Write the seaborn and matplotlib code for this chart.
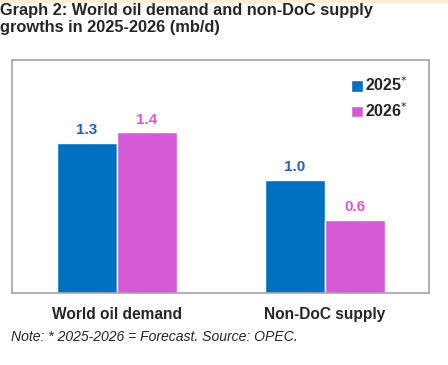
import pandas as pd
import seaborn as sns
import matplotlib.pyplot as plt
from matplotlib.patches import Rectangle

categories = ["World oil demand", "Non-DoC supply"]
years = ["2025$^{*}$", "2026$^{*}$"]
values_2025 = [1.29, 0.97]
values_2026 = [1.38, 0.63]
colors = ["#0070c0", "#d65ad6"]
label_colors = ["#1f5fc4", "#d65ad6"]

df = pd.DataFrame({
    "category": categories * 2,
    "year": [years[0]] * 2 + [years[1]] * 2,
    "value": values_2025 + values_2026,
})

sns.set_style("white")
plt.rcParams["font.family"] = ["Liberation Sans", "DejaVu Sans"]

fig = plt.figure(figsize=(4.48, 3.65), dpi=100)
ax = fig.add_axes([12 / 448, 1 - 293 / 365, 417 / 448, 233 / 365])

sns.barplot(data=df, x="category", y="value", hue="year", palette=colors,
            width=0.577, ax=ax, saturation=1, legend=True)

# value labels (rounded to one decimal as in the source)
for i, cont in enumerate(ax.containers):
    ax.bar_label(cont, fmt="%.1f", padding=4, color=label_colors[i],
                 fontsize=11, fontweight="bold")

ax.set_xlim(-0.505, 1.5)
ax.set_ylim(0, 2.0)
ax.set_yticks([])
ax.set_xlabel("")
ax.set_ylabel("")
ax.tick_params(axis="x", length=0, pad=10, labelsize=11.2)
for t in ax.get_xticklabels():
    t.set_fontweight("bold")
for s in ax.spines.values():
    s.set_color("#a6a6a6")
    s.set_linewidth(1.2)

leg = ax.legend(loc="upper right", bbox_to_anchor=(0.985, 0.995), frameon=False,
                handlelength=0.75, handleheight=0.75, handletextpad=0.15,
                labelspacing=0.45, prop={"weight": "bold", "size": 11.5})

fig.text(0.0, 1 - 3 / 365, "Graph 2: World oil demand and non-DoC supply\ngrowths in 2025-2026 (mb/d)",
         ha="left", va="top", fontsize=11.8, fontweight="bold", linespacing=1.2)
fig.text(11 / 448, 1 - 337 / 365, "Note: * 2025-2026 = Forecast. Source: OPEC.",
         ha="left", va="center", fontsize=10.1, style="italic")

# thin top border strip
fig.patches.append(Rectangle((0, 1 - 2 / 365), 1, 2 / 365, transform=fig.transFigure,
                             color="#fcefd6", zorder=0))

fig.savefig("out.png", dpi=100)
